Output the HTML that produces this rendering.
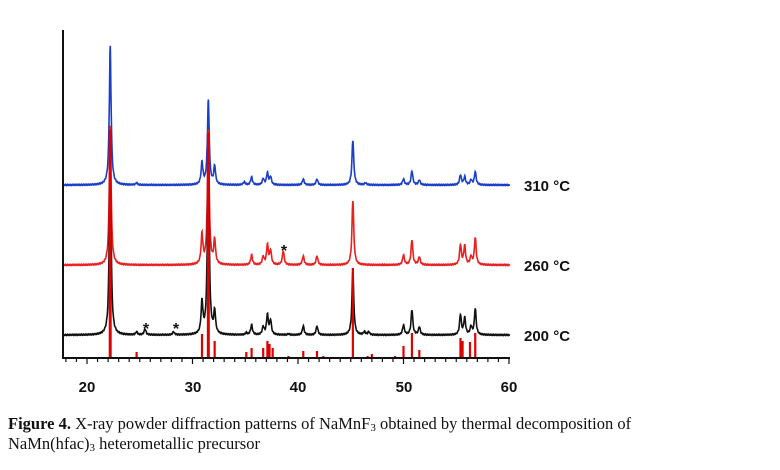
<!DOCTYPE html>
<html><head><meta charset="utf-8"><style>
body{margin:0;background:#fff;width:780px;height:470px;overflow:hidden;}
svg{position:absolute;left:0;top:0}
.cap{position:absolute;left:8px;font-family:"Liberation Serif",serif;font-size:16.5px;color:#111;white-space:nowrap}
</style></head><body>
<svg id="s" width="780" height="470" xmlns="http://www.w3.org/2000/svg">
<g font-family="Liberation Sans, sans-serif" font-weight="bold" font-size="15" fill="#111">
<text x="524" y="191">310 °C</text>
<text x="524" y="271">260 °C</text>
<text x="524" y="341">200 °C</text>
<text x="87" y="392" text-anchor="middle">20</text>
<text x="193" y="392" text-anchor="middle">30</text>
<text x="298" y="392" text-anchor="middle">40</text>
<text x="404" y="392" text-anchor="middle">50</text>
<text x="509" y="392" text-anchor="middle">60</text>
<text x="146" y="334" text-anchor="middle" font-size="16">*</text>
<text x="176" y="334" text-anchor="middle" font-size="16">*</text>
<text x="284" y="256" text-anchor="middle" font-size="16">*</text>
</g>
</svg>
<div class="cap" style="top:414px"><b>Figure 4.</b> X-ray powder diffraction patterns of NaMnF<sub style="font-size:11px;vertical-align:-2px">3</sub> obtained by thermal decomposition of</div>
<div class="cap" style="top:434px">NaMn(hfac)<sub style="font-size:11px;vertical-align:-2px">3</sub> heterometallic precursor</div>
<script>
var s=document.getElementById('s'),NS='http://www.w3.org/2000/svg';
function X(t){return 87+(t-20)*10.55;}
function el(n,a){var e=document.createElementNS(NS,n);for(var k in a)e.setAttribute(k,a[k]);s.appendChild(e);return e;}
function series(base,pk,col,w){
 var d='';for(var t=17.8;t<=60.1;t+=0.03){var y=base;
  for(var i=0;i<pk.length;i++){var dx=(t-pk[i][0])/0.1;y-=pk[i][1]/(1+dx*dx);}
  y+=Math.sin(t*37)*0.6;
  d+=(d?'L':'M')+X(t).toFixed(1)+','+y.toFixed(1);}
 el('path',{d:d,fill:'none',stroke:col,'stroke-width':w||1.6});
}
var sticks=[[22.2,228],[24.7,6],[30.9,24],[31.5,225],[32.1,17],[35.1,6],[35.6,10],[36.7,10],[37.1,17],[37.3,14],[37.6,10],[39.1,2],[40.5,7],[41.8,7],[42.4,2],[45.2,90],[46.6,2],[47,4],[49.2,2],[50,12],[50.8,25],[51.5,8],[55.4,20],[55.6,17],[56.3,16],[56.8,25]];
series(185,[[22.2,140],[24.7,2],[30.9,22],[31.5,85],[32.1,18],[34.9,3],[35.6,8],[36.7,6],[37.1,12],[37.4,8],[40.5,6],[41.8,6],[45.2,45],[46.4,2],[50,6],[50.8,14],[51.5,5],[55.4,10],[55.8,8],[56.4,5],[56.8,13]],'#1a3ec8');
series(265,[[22.2,140],[30.9,30],[31.5,135],[32.1,24],[35.6,10],[36.7,8],[37.1,20],[37.4,14],[38.6,14],[40.5,9],[41.8,9],[45.2,65],[50,10],[50.8,25],[51.5,8],[55.4,20],[55.8,19],[56.4,8],[56.8,27]],'#e82020');
series(335,[[22.2,185],[24.7,3],[25.5,6],[28.2,3],[30.9,32],[31.5,190],[32.1,22],[35.1,2],[35.6,10],[36.7,8],[37.1,20],[37.4,14],[39.1,1],[40.5,9],[41.8,9],[45.2,65],[46.3,3],[46.7,3],[50,10],[50.8,25],[51.5,8],[55.4,20],[55.8,17],[56.4,8],[56.8,26]],'#111');
for(var i=0;i<sticks.length;i++){var x=X(sticks[i][0]);el('line',{x1:x,x2:x,y1:358,y2:358-sticks[i][1],stroke:'#e00000','stroke-width':(sticks[i][1]>100?3:2.2)});}
el('line',{x1:63,x2:63,y1:30,y2:359,stroke:'#111','stroke-width':2});
el('line',{x1:63,x2:510,y1:358,y2:358,stroke:'#111','stroke-width':2});
for(var t=18;t<=60;t++){var x=X(t);el('line',{x1:x,x2:x,y1:358,y2:(t%10==0?364:362),stroke:'#111','stroke-width':1.2});}
</script>
</body></html>
